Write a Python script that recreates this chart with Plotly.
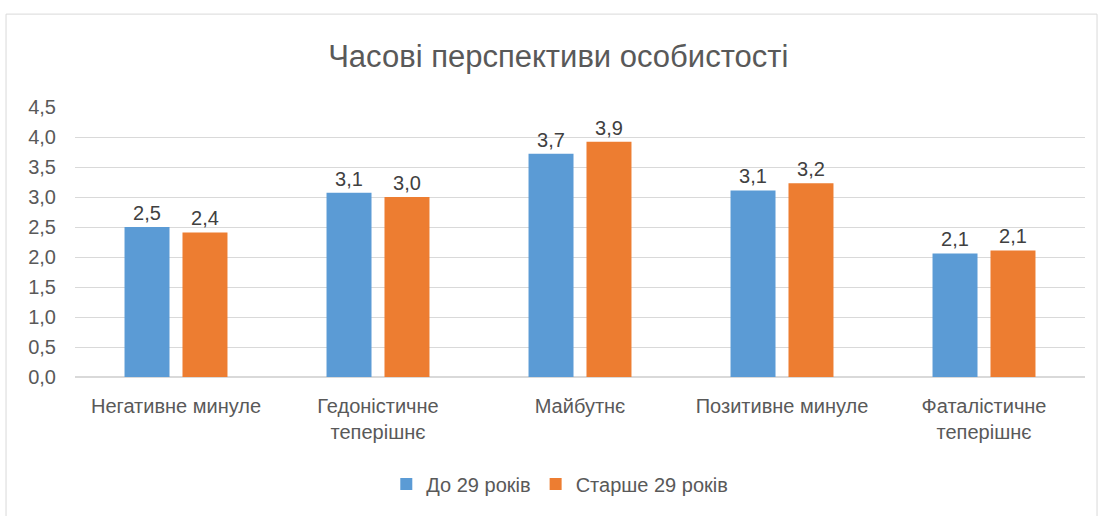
import plotly.graph_objects as go

categories = ["Негативне минуле", "Гедоністичне<br>теперішнє", "Майбутнє",
              "Позитивне минуле", "Фаталістичне<br>теперішнє"]
series_names = ["До 29 років", "Старше 29 років"]
young = [2.50, 3.07, 3.72, 3.11, 2.06]
older = [2.41, 3.00, 3.92, 3.23, 2.11]
tick_vals = [0, 0.5, 1, 1.5, 2, 2.5, 3, 3.5, 4, 4.5]
tick_text = ["0,0", "0,5", "1,0", "1,5", "2,0", "2,5", "3,0", "3,5", "4,0", "4,5"]
colors = ["#5B9BD5", "#ED7D31"]

FONT = "Liberation Sans, Arial, sans-serif"


def fmt(v):
    return f"{v:.1f}".replace(".", ",")


fig = go.Figure()
for name, vals, c in zip(series_names, [young, older], colors):
    fig.add_trace(go.Bar(
        name=name, x=categories, y=vals, marker=dict(color=c, line=dict(width=0)),
        text=[fmt(v) for v in vals], textposition="outside",
        textfont=dict(size=20, color="#404040", family=FONT),
        cliponaxis=False,
    ))

fig.update_layout(
    width=1099, height=516,
    paper_bgcolor="white", plot_bgcolor="white",
    margin=dict(l=75, r=14, t=107, b=136),
    barmode="group", bargap=0.426, bargroupgap=0.224,
    title=dict(text="Часові перспективи особистості", x=0.508, xanchor="center",
               y=1 - 56 / 516, yanchor="middle",
               font=dict(size=31, color="#595959", family=FONT)),
    font=dict(family=FONT, color="#595959"),
    legend=dict(orientation="h", x=0.48, xanchor="center", y=-0.396, yanchor="middle",
                font=dict(size=20, color="#595959", family=FONT),
                itemwidth=30, traceorder="normal"),
    showlegend=True,
    shapes=[dict(type="rect", xref="paper", yref="paper",
                 x0=-0.0683, x1=1.0119, y0=-0.53, y1=1.344,
                 line=dict(color="#D9D9D9", width=1), fillcolor="rgba(0,0,0,0)",
                 layer="below")],
)
fig.update_xaxes(showline=True, linecolor="#D9D9D9", ticks="",
                 tickfont=dict(size=20, color="#595959"),
                 ticklabelstandoff=11, showgrid=False)
fig.update_yaxes(range=[0, 4.5], tickvals=tick_vals, ticktext=tick_text,
                 showgrid=True, gridcolor="#D9D9D9", gridwidth=1, zeroline=True,
                 zerolinecolor="#D9D9D9", tickfont=dict(size=20, color="#595959"),
                 ticklabelstandoff=18, showline=False)
fig.write_html("out.html", config={"displayModeBar": False},
               post_script="document.body.style.margin='0px';")
